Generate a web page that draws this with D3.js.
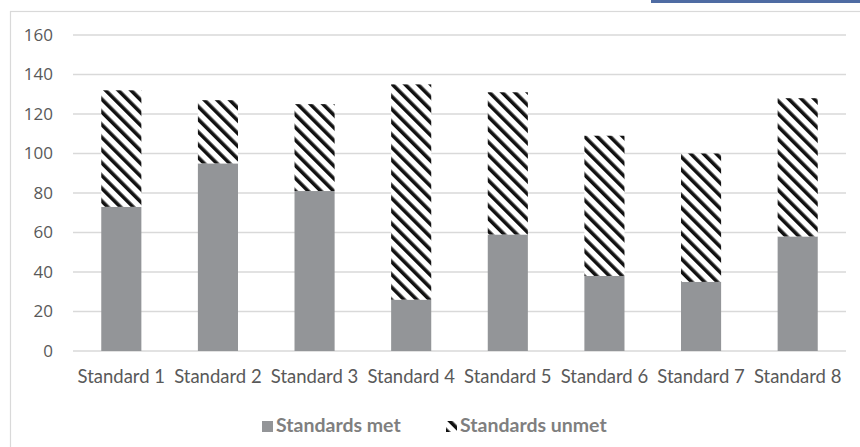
<!DOCTYPE html>
<html>
<head>
<meta charset="utf-8">
<script src="https://cdn.jsdelivr.net/npm/d3@7"></script>
<style>
  html, body { margin: 0; padding: 0; background: #fff; }
  svg { display: block; }
</style>
</head>
<body>
<div id="chart"></div>
<script>
var categories = ["Standard 1", "Standard 2", "Standard 3", "Standard 4",
                  "Standard 5", "Standard 6", "Standard 7", "Standard 8"];
var metValues = [73, 95, 81, 26, 59, 38, 35, 58];
var unmetValues = [59, 32, 44, 109, 72, 71, 65, 70];
var yTicks = [0, 20, 40, 60, 80, 100, 120, 140, 160];
var seriesNames = ["Standards met", "Standards unmet"];

var clrMet = "#939598";
var clrText = "#595959";
var clrGrid = "#d9d9d9";

var W = 860, H = 447;
var svg = d3.select("#chart").append("svg").attr("width", W).attr("height", H);

// hatch for the unmet series
var defs = svg.append("defs");
var pat = defs.append("pattern")
  .attr("id", "hatch")
  .attr("patternUnits", "userSpaceOnUse")
  .attr("width", 9).attr("height", 9)
  .attr("patternTransform", "rotate(-45)");
pat.append("rect").attr("width", 9).attr("height", 9).attr("fill", "#fff");
pat.append("rect").attr("x", 0).attr("width", 3.6).attr("height", 9).attr("fill", "#111");

// chart frame (runs off the right / bottom edge)
svg.append("rect")
  .attr("x", 10.5).attr("y", 11.5)
  .attr("width", 900).attr("height", 500)
  .attr("fill", "none").attr("stroke", clrGrid).attr("stroke-width", 1.2);

// small piece of a blue banner at the top right
svg.append("rect").attr("x", 651).attr("y", 0).attr("width", 209).attr("height", 3)
  .attr("fill", "#4f6ca3");

var data = categories.map(function (c, i) {
  return { cat: c, met: metValues[i], unmet: unmetValues[i] };
});

var x = d3.scaleBand().domain(categories).range([73, 846]).paddingInner(0.585).paddingOuter(0.2925);
var y = d3.scaleLinear().domain([0, 160]).range([351, 35]);

// gridlines
svg.append("g")
  .selectAll("line")
  .data(yTicks)
  .enter()
  .append("line")
    .attr("x1", 73).attr("x2", 846)
    .attr("y1", function (d) { return y(d); })
    .attr("y2", function (d) { return y(d); })
    .attr("stroke", clrGrid)
    .attr("stroke-width", 1.5);

// y axis labels
var yAxis = svg.append("g")
  .attr("transform", "translate(53,0)")
  .call(d3.axisLeft(y).tickValues(yTicks).tickSize(0).tickPadding(0));
yAxis.select(".domain").remove();
yAxis.selectAll("text")
  .style("font-family", "'Open Sans', sans-serif")
  .style("font-size", "17px")
  .attr("fill", clrText);

// stacked bars
var stack = d3.stack().keys(["met", "unmet"]);
var layers = stack(data);
var fills = [clrMet, "url(#hatch)"];

svg.append("g")
  .selectAll("g")
  .data(layers)
  .enter()
  .append("g")
    .attr("fill", function (d, i) { return fills[i]; })
  .selectAll("rect")
  .data(function (d) { return d; })
  .enter()
  .append("rect")
    .attr("x", function (d) { return x(d.data.cat); })
    .attr("width", x.bandwidth())
    .attr("y", function (d) { return y(d[1]); })
    .attr("height", function (d) { return y(d[0]) - y(d[1]); });

// x axis labels
var xAxis = svg.append("g")
  .attr("transform", "translate(0,351)")
  .call(d3.axisBottom(x).tickSize(0).tickPadding(0));
xAxis.select(".domain").remove();
xAxis.selectAll("text")
  .attr("dy", null)
  .attr("y", 32)
  .style("font-family", "Lato, sans-serif")
  .style("font-size", "18.5px")
  .attr("fill", clrText);

// legend
var legend = svg.append("g").attr("transform", "translate(0,432)");
legend.append("rect").attr("x", 262).attr("y", -11).attr("width", 11).attr("height", 11).attr("fill", clrMet);
legend.append("rect").attr("x", 446).attr("y", -11).attr("width", 11).attr("height", 11).attr("fill", "url(#hatch)");
legend.selectAll("text")
  .data(seriesNames)
  .enter()
  .append("text")
    .attr("x", function (d, i) { return i === 0 ? 276 : 460; })
    .attr("y", 0)
    .style("font-family", "Lato, sans-serif")
    .style("font-size", "19.5px")
    .style("font-weight", "bold")
    .attr("fill", "#7f7f7f")
    .text(function (d) { return d; });
</script>
</body>
</html>
